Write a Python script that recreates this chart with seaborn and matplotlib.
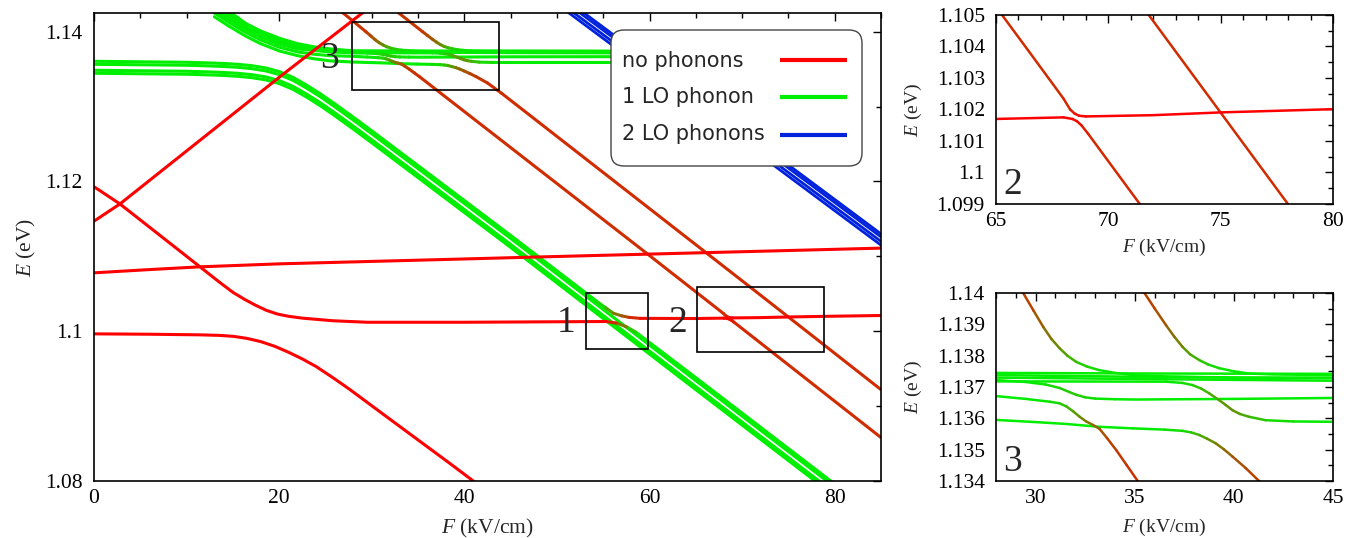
import numpy as np
import pandas as pd
import matplotlib
matplotlib.use("Agg")
import matplotlib.pyplot as plt
import seaborn as sns
from matplotlib.colors import LinearSegmentedColormap
from matplotlib.lines import Line2D
from matplotlib.patches import Rectangle, FancyBboxPatch
from matplotlib.transforms import IdentityTransform
from matplotlib.ticker import MultipleLocator, FuncFormatter

# ---------------- data (F in kV/cm, E in eV, W = LO-phonon share 0..1) ----------------
R1_F = [0, 2.8, 20.4, 29.5]
R1_E = [1.1147, 1.1170, 1.1343, 1.1430]
R1_W = [0, 0, 0, 0]

R2_F = [0, 2.8, 11.45, 13.5, 15.0, 16.2, 17.4, 18.6, 19.8, 21.0, 22.5, 25.8, 29.5, 40,
        55.3, 56.4, 57.5, 58.5, 65, 80]
R2_E = [1.1193, 1.1170, 1.1086, 1.1066, 1.1052, 1.1043, 1.1035, 1.1028, 1.1023, 1.1020,
        1.10175, 1.1014, 1.1012, 1.1012, 1.1013, 1.1011, 1.1006, 1.0999, 1.0938, 1.0796]
R2_W = [0, 0, 0, 0, 0, 0, 0, 0, 0, 0, 0, 0, 0, 0, 0, 0.3, 0.7, 1, 1, 1]

R3_F = [0, 5.5, 11.4, 20, 38.4, 47.4, 66.2, 85]
R3_E = [1.1078, 1.1082, 1.1086, 1.1090, 1.1096, 1.1099, 1.1105, 1.1111]
R3_W = [0, 0, 0, 0, 0, 0, 0, 0]

R4_F = [0, 6, 11.4, 13.5, 15.05, 16.5, 18.0, 19.5, 21.0, 22.5, 24.0, 25.8, 27.6, 31.2, 38.4, 41.5]
R4_E = [1.09965, 1.0996, 1.09952, 1.09945, 1.09932, 1.09905, 1.09862, 1.09800, 1.09720,
        1.0963, 1.09528, 1.0938, 1.09225, 1.08895, 1.08238, 1.0795]
R4_W = [0, 0, 0, 0, 0, 0, 0, 0, 0, 0, 0, 0, 0, 0, 0, 0]

# lower 1-LO band (flat at ~1.135, then descending)
G1_F = [0, 10, 12, 14, 15.5, 17, 18.5, 20, 21.5, 23, 24.5, 26, 28, 30, 35, 45, 55, 65, 80]
G1b_E = [1.13565, 1.13552, 1.13545, 1.13536, 1.13525, 1.13507, 1.13478, 1.13428, 1.1335,
         1.13244, 1.13127, 1.12998, 1.1282, 1.12637, 1.12172, 1.1124, 1.1029, 1.0934, 1.0792]
G1c_E = [1.13485, 1.13472, 1.13465, 1.13456, 1.13445, 1.13427, 1.13398, 1.13348, 1.1327,
         1.13164, 1.13047, 1.12918, 1.1274, 1.12557, 1.12092, 1.1116, 1.1021, 1.0926, 1.0784]
G1d_E = [1.13445, 1.13432, 1.13425, 1.13416, 1.13405, 1.13387, 1.13358, 1.13308, 1.1323,
         1.13124, 1.13007, 1.12878, 1.1270, 1.12517, 1.12052, 1.1112, 1.1017, 1.0922, 1.0780]
G1_W = [1, 1, 1, 1, 1, 1, 1, 1, 1, 1, 1, 1, 1, 1, 1, 1, 1, 1, 1]

# top line of that band: anticrossing in box 1 and box 2
G1a_F = [0, 10, 12, 14, 15.5, 17, 18.5, 20, 21.5, 23, 24.5, 26, 28, 30, 35, 45,
         54.3, 55.3, 56.1, 57.0, 57.8, 59, 65,
         68.0, 68.4, 68.6, 68.8, 69.1, 71.4, 85]
G1a_E = [1.13605, 1.13592, 1.13585, 1.13576, 1.13565, 1.13547, 1.13518, 1.13468, 1.1339,
         1.13284, 1.13167, 1.13038, 1.1286, 1.12677, 1.12212, 1.1128,
         1.1040, 1.1031, 1.1024, 1.10205, 1.10185, 1.10172, 1.10170,
         1.10175, 1.10170, 1.10163, 1.10150, 1.10123, 1.0990, 1.0858]
G1a_W = [1, 1, 1, 1, 1, 1, 1, 1, 1, 1, 1, 1, 1, 1, 1, 1,
         1, 0.8, 0.6, 0.4, 0.25, 0.1, 0,
         0, 0.02, 0.05, 0.1, 0.15, 0.18, 0.18]

# upper 1-LO band (descending from the top, flat at ~1.137)
G2_F = [13.0, 14.5, 16.4, 18, 20.1, 22, 23.7, 25.5, 28, 36, 45, 80]
G2a_E = [1.1440, 1.1428, 1.1411, 1.1401, 1.1391, 1.1384, 1.1380, 1.1377, 1.13745, 1.13743, 1.13742, 1.1374]
G2b_E = [1.1437, 1.1425, 1.1409, 1.1399, 1.1389, 1.1382, 1.1378, 1.1376, 1.13738, 1.13732, 1.13728, 1.1372]
G2c_E = [1.1434, 1.1422, 1.1407, 1.1397, 1.1387, 1.1381, 1.1377, 1.1375, 1.13730, 1.13725, 1.13720, 1.1371]
G2_W = [1, 1, 1, 1, 1, 1, 1, 1, 1, 1, 1, 1]

G2d_F = [13.0, 14.5, 16.4, 18, 20.1, 22, 23.7, 25.5, 28, 29.5, 30.5, 31.2, 31.7, 32.05,
         32.5, 33, 34, 35, 40, 45, 80]
G2d_E = [1.1431, 1.1419, 1.1405, 1.1395, 1.1385, 1.1379, 1.1376, 1.1374, 1.13722, 1.13716,
         1.13708, 1.13697, 1.13684, 1.13675, 1.13667, 1.13663, 1.13661, 1.1366, 1.13662,
         1.13665, 1.1367]
G2d_W = [1, 1, 1, 1, 1, 1, 1, 1, 1, 1, 0.95, 0.9, 0.85, 0.85, 0.9, 0.95, 1, 1, 1, 1, 1]

G2e_F = [13.0, 14.5, 16.4, 18, 20.1, 22, 23.7, 25.5, 28, 36.58, 37.4, 37.92, 38.35, 38.75,
         39.26, 39.6, 39.93, 40.3, 40.76, 41.6, 43, 45, 80]
G2e_E = [1.1429, 1.1417, 1.1403, 1.1393, 1.1383, 1.1377, 1.1375, 1.1373, 1.13718, 1.13717,
         1.13713, 1.13706, 1.13695, 1.1368, 1.13658, 1.13642, 1.13626, 1.13614, 1.13605,
         1.13594, 1.1359, 1.13589, 1.1359]
G2e_W = [1, 1, 1, 1, 1, 1, 1, 1, 1, 1, 0.95, 0.9, 0.82, 0.75, 0.66, 0.62, 0.6, 0.66,
         0.75, 0.88, 0.96, 1, 1]

# line leaving the band at box 3, diagonal, anticrossing in box 2, flat to the right
G2f_F = [13.0, 14.5, 16.4, 18, 20.1, 22, 23.7, 25.5, 28, 29.5, 30.71, 31.2, 31.55, 31.9,
         32.22, 32.55, 32.89, 33.23, 33.6, 34.06, 34.6, 35.15,
         59.8, 65.27, 66.5, 68.0, 68.3, 68.5, 68.7, 69.0, 72, 75.1, 80, 85]
G2f_E = [1.1425, 1.1413, 1.1399, 1.1389, 1.1379, 1.1373, 1.1370, 1.1368, 1.13671, 1.13662,
         1.13653, 1.13648, 1.13638, 1.13622, 1.13605, 1.1359, 1.13579, 1.13566, 1.13537,
         1.13499, 1.1345, 1.1340,
         1.1103, 1.1050, 1.10381, 1.10235, 1.10200, 1.10187, 1.10180, 1.10178, 1.10182,
         1.10191, 1.10201, 1.1021]
G2f_W = [1, 1, 1, 1, 1, 1, 1, 1, 1, 1, 0.95, 0.9, 0.8, 0.7, 0.6, 0.52, 0.45, 0.38, 0.3,
         0.25, 0.22, 0.2,
         0.18, 0.18, 0.18, 0.18, 0.15, 0.08, 0.03, 0, 0, 0, 0, 0]

# second line leaving the band (box 3), diagonal through box 2
G2g_F = [13.0, 14.5, 16.4, 18, 20.1, 22, 23.7, 25.5, 28, 30, 31.55, 33.2, 34.9, 36.5, 37.41,
         37.85, 38.25, 38.65, 39.09, 39.5, 39.93, 40.6, 41.27, 42.5, 44, 66.2, 71.8, 78.2, 85]
G2g_E = [1.1420, 1.1408, 1.1394, 1.1384, 1.1374, 1.1368, 1.1364, 1.1361, 1.13595, 1.13588,
         1.13582, 1.13573, 1.13568, 1.13564, 1.1356, 1.13555, 1.13547, 1.13535, 1.1352,
         1.13501, 1.13478, 1.13441, 1.1340, 1.13315, 1.1318, 1.1104, 1.1050, 1.0988, 1.0922]
G2g_W = [1, 1, 1, 1, 1, 1, 1, 1, 1, 1, 1, 1, 1, 0.97, 0.92, 0.85, 0.75, 0.65, 0.55, 0.45,
         0.38, 0.3, 0.25, 0.2, 0.18, 0.18, 0.18, 0.18, 0.18]

# diagonal states entering the upper band from above (box 3)
X1_F = [26.6, 27.9, 29.37, 29.9, 30.38, 30.8, 31.22, 31.6, 32.05, 32.6, 33.2, 34.0, 34.9,
        36.5, 40, 45, 80]
X1_E = [1.1428, 1.1415, 1.1400, 1.13943, 1.13892, 1.13853, 1.13823, 1.13800, 1.13780,
        1.13765, 1.13754, 1.13745, 1.13738, 1.13734, 1.1373, 1.1373, 1.1373]
X1_W = [0.2, 0.2, 0.25, 0.32, 0.42, 0.52, 0.62, 0.72, 0.82, 0.9, 0.95, 0.98, 1, 1, 1, 1, 1]

X2_F = [32.6, 35.49, 36.0, 36.58, 37.0, 37.41, 37.8, 38.25, 38.7, 39.26, 40.0, 40.76, 42, 45, 80]
X2_E = [1.1428, 1.1400, 1.13951, 1.13897, 1.13860, 1.13828, 1.13804, 1.13786, 1.13772,
        1.1376, 1.1375, 1.13743, 1.1374, 1.13738, 1.1373]
X2_W = [0.2, 0.25, 0.3, 0.4, 0.5, 0.6, 0.7, 0.8, 0.88, 0.95, 0.98, 1, 1, 1, 1]

# 2-LO-phonon band
B_F = [50, 85]
B1_E = [1.1452, 1.1130]
B2_E = [1.1448, 1.1126]
B3_E = [1.1442, 1.1120]
B4_E = [1.1437, 1.1115]

# zoom boxes (F0, E0, F1, E1) and their labels
BOX_NAMES = ["1", "2", "3"]
BOX_F0 = [53.1, 65.1, 27.86]
BOX_F1 = [59.8, 78.8, 43.7]
BOX_E0 = [1.09765, 1.09725, 1.13225]
BOX_E1 = [1.10513, 1.10593, 1.14134]
LAB_F = [51.0, 63.1, 25.4]
LAB_E = [1.1012, 1.1012, 1.1364]

LEGEND_LABELS = ["no phonons", "1 LO phonon", "2 LO phonons"]
RED, GREEN, BLUE = "#ff0000", "#00ee00", "#0022dd"

CURVES = [
    (G1_F, G1b_E, G1_W), (G1_F, G1c_E, G1_W), (G1_F, G1d_E, G1_W),
    (G1a_F, G1a_E, G1a_W),
    (G2_F, G2a_E, G2_W), (G2_F, G2b_E, G2_W), (G2_F, G2c_E, G2_W),
    (G2d_F, G2d_E, G2d_W), (G2e_F, G2e_E, G2e_W), (G2f_F, G2f_E, G2f_W),
    (G2g_F, G2g_E, G2g_W), (X1_F, X1_E, X1_W), (X2_F, X2_E, X2_W),
    (R1_F, R1_E, R1_W), (R2_F, R2_E, R2_W), (R3_F, R3_E, R3_W), (R4_F, R4_E, R4_W),
]
BLUE_LINES = [B1_E, B2_E, B3_E, B4_E]

# ---------------- style ----------------
sns.set_theme(style="white")
plt.rcParams["font.family"] = ["Liberation Serif", "DejaVu Serif"]
plt.rcParams["mathtext.fontset"] = "custom"
plt.rcParams["mathtext.it"] = "Liberation Serif:italic"
plt.rcParams["mathtext.rm"] = "Liberation Serif"

cmap = LinearSegmentedColormap.from_list("phon", [GREEN, RED])


def segment_table(curves):
    rows, sid = [], 0
    for F, E, W in curves:
        prev = None
        for i in range(len(F) - 1):
            w = 0.5 * (W[i] + W[i + 1])
            if w != prev:
                sid += 1
                rows.append((sid, F[i], E[i], 1 - w))
            rows.append((sid, F[i + 1], E[i + 1], 1 - w))
            prev = w
    return pd.DataFrame(rows, columns=["seg", "F", "E", "red"])


SEG = segment_table(CURVES)
BLUE_DF = pd.DataFrame(
    [(k, f, e) for k, Es in enumerate(BLUE_LINES) for f, e in zip(B_F, Es)],
    columns=["line", "F", "E"])


def draw(ax, lw, blw):
    sns.lineplot(data=BLUE_DF, x="F", y="E", units="line", estimator=None, sort=False,
                 color=BLUE, lw=blw, legend=False, ax=ax, solid_capstyle="round")
    sns.lineplot(data=SEG, x="F", y="E", units="seg", hue="red", palette=cmap,
                 hue_norm=(0, 1), estimator=None, sort=False, legend=False,
                 lw=lw, ax=ax, solid_capstyle="round")


fmt = FuncFormatter(lambda v, p: "%g" % v)


def style(ax, xmaj, xmin, ymaj, ymin, ticksize, labsize, xpad, ypad):
    ax.xaxis.set_major_locator(MultipleLocator(xmaj))
    ax.xaxis.set_minor_locator(MultipleLocator(xmin))
    ax.yaxis.set_major_locator(MultipleLocator(ymaj))
    ax.yaxis.set_minor_locator(MultipleLocator(ymin))
    ax.yaxis.set_major_formatter(fmt)
    ax.xaxis.set_major_formatter(fmt)
    ax.tick_params(which="both", direction="in", top=True, right=True, width=1.0,
                   colors="black", labelsize=ticksize)
    ax.tick_params(which="major", length=6)
    ax.tick_params(which="minor", length=3.5)
    ax.tick_params(axis="x", pad=6)
    ax.tick_params(axis="y", pad=8)
    for s in ax.spines.values():
        s.set_linewidth(1.2)
        s.set_color("black")
    ax.set_xlabel(r"$F$ (kV/cm)", fontsize=labsize, labelpad=xpad)
    ax.set_ylabel(r"$E$ (eV)", fontsize=labsize, labelpad=ypad)
    ax.grid(False)


W_PX, H_PX = 1362, 538
fig = plt.figure(figsize=(W_PX / 100, H_PX / 100), dpi=100)
ax = fig.add_axes([94 / W_PX, 57 / H_PX, 787 / W_PX, 468 / H_PX])
ax2 = fig.add_axes([996 / W_PX, 334 / H_PX, 337 / W_PX, 189 / H_PX])
ax3 = fig.add_axes([996 / W_PX, 57 / H_PX, 337 / W_PX, 188 / H_PX])

# main panel
draw(ax, 2.2, 2.0)
ax.set_xlim(0, 85)
ax.set_ylim(1.08, 1.1425)
style(ax, 20, 5, 0.02, 0.01, 15.5, 15.5, 6, 5)
for name, f0, f1, e0, e1, lf, le in zip(BOX_NAMES, BOX_F0, BOX_F1, BOX_E0, BOX_E1, LAB_F, LAB_E):
    ax.add_patch(Rectangle((f0, e0), f1 - f0, e1 - e0, fill=False, ec="black", lw=1.2, zorder=5))
    ax.text(lf, le, name, fontsize=27, ha="center", va="center", zorder=6)

# legend: text left-aligned, line samples on the right (pixel layout of the reference)
ident = IdentityTransform()
LEG_X0, LEG_X1, LEG_TOP, LEG_BOT = 611, 862, 30, 166
fig.add_artist(FancyBboxPatch((LEG_X0, H_PX - LEG_BOT), LEG_X1 - LEG_X0, LEG_BOT - LEG_TOP,
                              boxstyle="round,pad=0,rounding_size=13", transform=ident,
                              fc="white", ec="#444444", lw=1.0, zorder=20))
for k, (lab, col) in enumerate(zip(LEGEND_LABELS, (RED, GREEN, BLUE))):
    base = 66.7 + 36.7 * k
    mid = 60.0 + 37.4 * k
    fig.add_artist(plt.Text(621.7, H_PX - base, lab, transform=ident, fontsize=15,
                            family="DejaVu Sans", ha="left", va="baseline", zorder=21))
    fig.add_artist(Line2D([780, 847], [H_PX - mid, H_PX - mid], transform=ident,
                          color=col, lw=3, zorder=21, solid_capstyle="butt"))

# inset 2
draw(ax2, 1.8, 1.6)
ax2.set_xlim(65, 80)
ax2.set_ylim(1.099, 1.105)
style(ax2, 5, 1, 0.001, 0.0005, 15.5, 14, 4, 9)
ax2.text(0.051, 0.10, "2", transform=ax2.transAxes, fontsize=27, ha="center", va="center")

# inset 3
draw(ax3, 1.8, 1.6)
ax3.set_xlim(28, 45)
ax3.set_ylim(1.134, 1.140)
style(ax3, 5, 1, 0.001, 0.0005, 15.5, 14, 6, 9)
ax3.text(0.049, 0.10, "3", transform=ax3.transAxes, fontsize=27, ha="center", va="center")

fig.savefig("out.png", dpi=100)
